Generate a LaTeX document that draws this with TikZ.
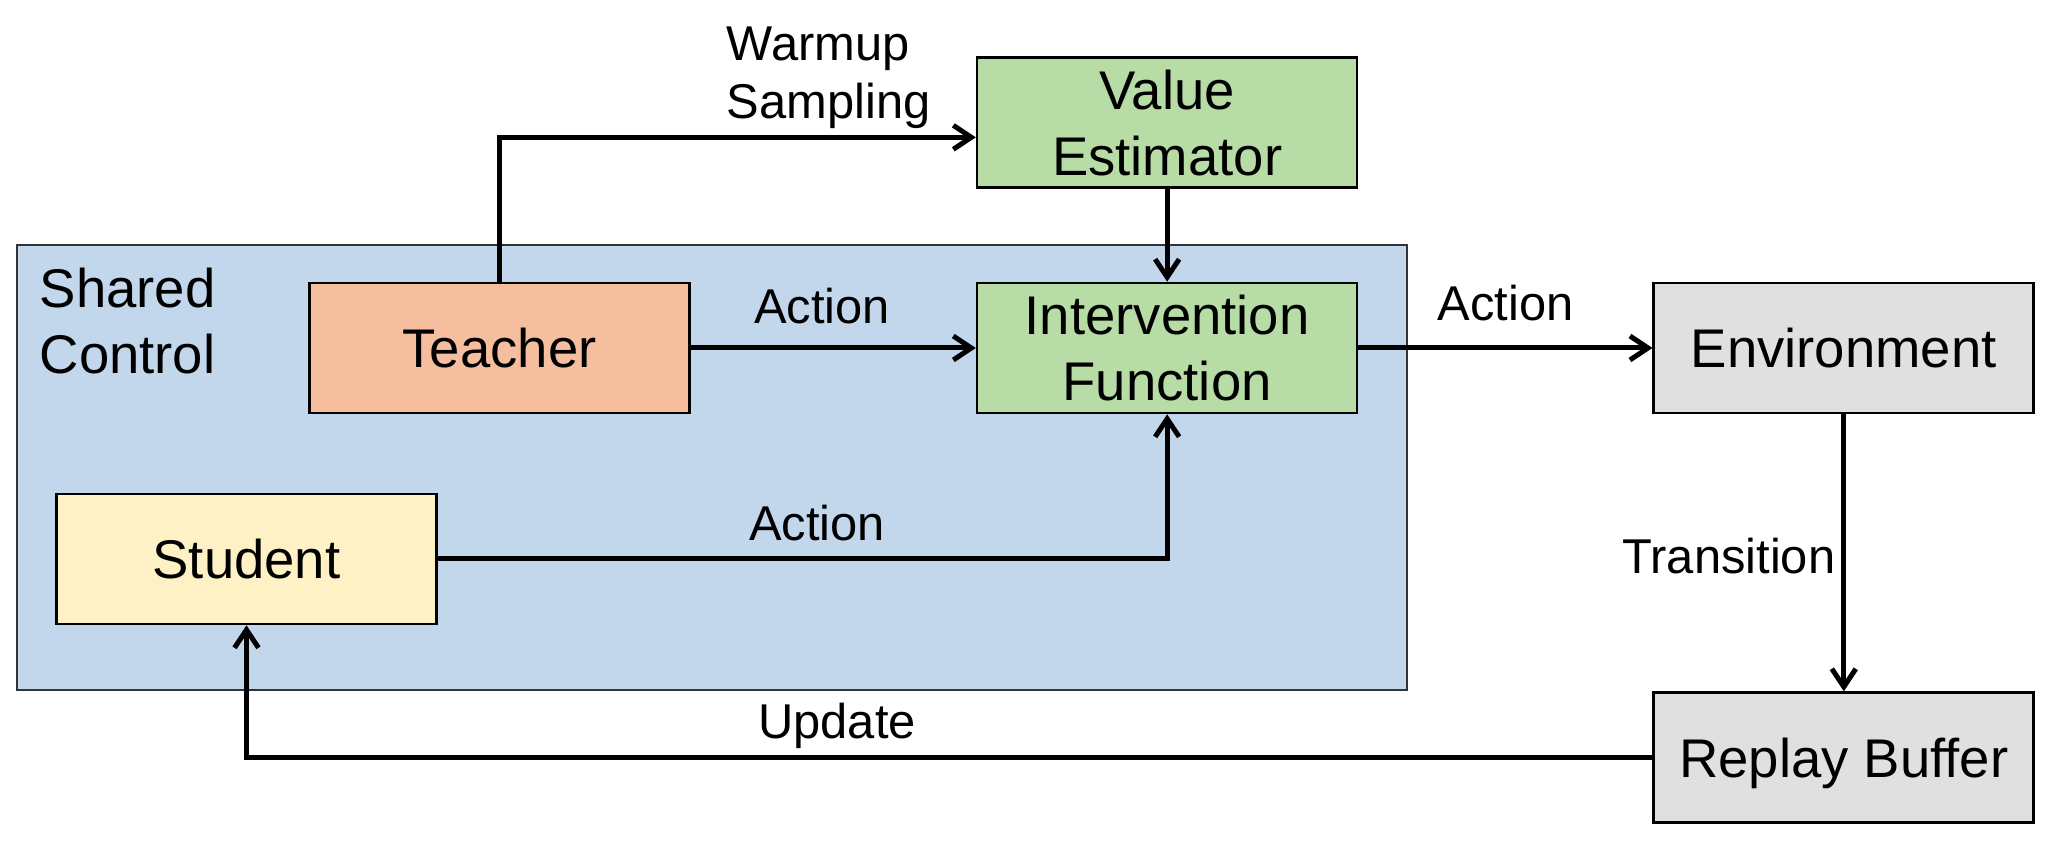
\documentclass[tikz,border=0pt]{standalone}
\usepackage{fontspec}
\setmainfont{Liberation Sans}
\usetikzlibrary{
  arrows.meta,
  positioning
}
\definecolor{scTeacher}{HTML}{F5BE9E}
\definecolor{scStudent}{HTML}{FEF1C6}
\definecolor{scNet}{HTML}{B8DCA6}
\definecolor{scShared}{HTML}{C2D6EC}
\definecolor{scEnv}{HTML}{E0E0E0}
\tikzset{
  scnode/.style={
    draw, line width=0.75pt, minimum width=3.8cm, minimum height=1.3cm,
    inner sep=0pt, align=center, text depth=0pt,
    font=\fontsize{15.5pt}{18.8pt}\selectfont
  },
  teacherbox/.style={scnode, fill=scTeacher},
  studentbox/.style={scnode, fill=scStudent},
  netbox/.style={scnode, fill=scNet},
  envbox/.style={scnode, fill=scEnv},
  region/.style={draw=black!80, line width=0.6pt, fill=scShared, inner sep=0pt},
  flow/.style={-{Straight Barb[length=1.8mm, width=2.4mm]}, line width=0.05cm},
  tag/.style={font=\fontsize{13.9pt}{16.6pt}\selectfont, inner sep=0pt, text depth=0pt, align=center}
}
\begin{document}
\begin{tikzpicture}
  \useasboundingbox (0,0) rectangle (20.5,-8.5);
  \node[region, minimum width=13.9cm, minimum height=4.45cm] (shared) at (7.12,-4.675) {};
  \node[tag, anchor=north west, align=left, font=\fontsize{15.5pt}{18.8pt}\selectfont] (sharedlbl) at (0.39,-2.67) {Shared\\Control};
  \node[teacherbox] (teacher) at (4.995,-3.48) {Teacher};
  \node[netbox, right=2.85cm of teacher] (interv) {Intervention\\Function};
  \node[netbox, above=0.93cm of interv] (value) {Value\\Estimator};
  \node[envbox, right=2.94cm of interv] (env) {Environment};
  \node[envbox, below=2.77cm of env] (buffer) {Replay Buffer};
  \node[studentbox] (student) at (2.465,-5.59) {Student};
  \draw[flow] (teacher.north) |- ([yshift=-1.5mm]value.west) node[tag, align=left, pos=0.736, above right=1.65mm and 0mm] {Warmup\\Sampling};
  \draw[flow] (teacher) -- (interv) node[tag, pos=0.46, above=2.2mm] {Action};
  \draw[flow] (value) -- (interv);
  \draw[flow] (interv) -- (env) node[tag, midway, above=2.5mm] {Action};
  \draw[flow] (student) -| (interv) node[tag, pos=0.26, above=1.6mm] {Action};
  \draw[flow] (env) -- (buffer) node[tag, midway, left=0.6mm, yshift=-0.3mm] {Transition};
  \draw[flow] (buffer) -| (student) node[tag, pos=0.29, above=1.7mm] {Update};
\end{tikzpicture}
\end{document}
